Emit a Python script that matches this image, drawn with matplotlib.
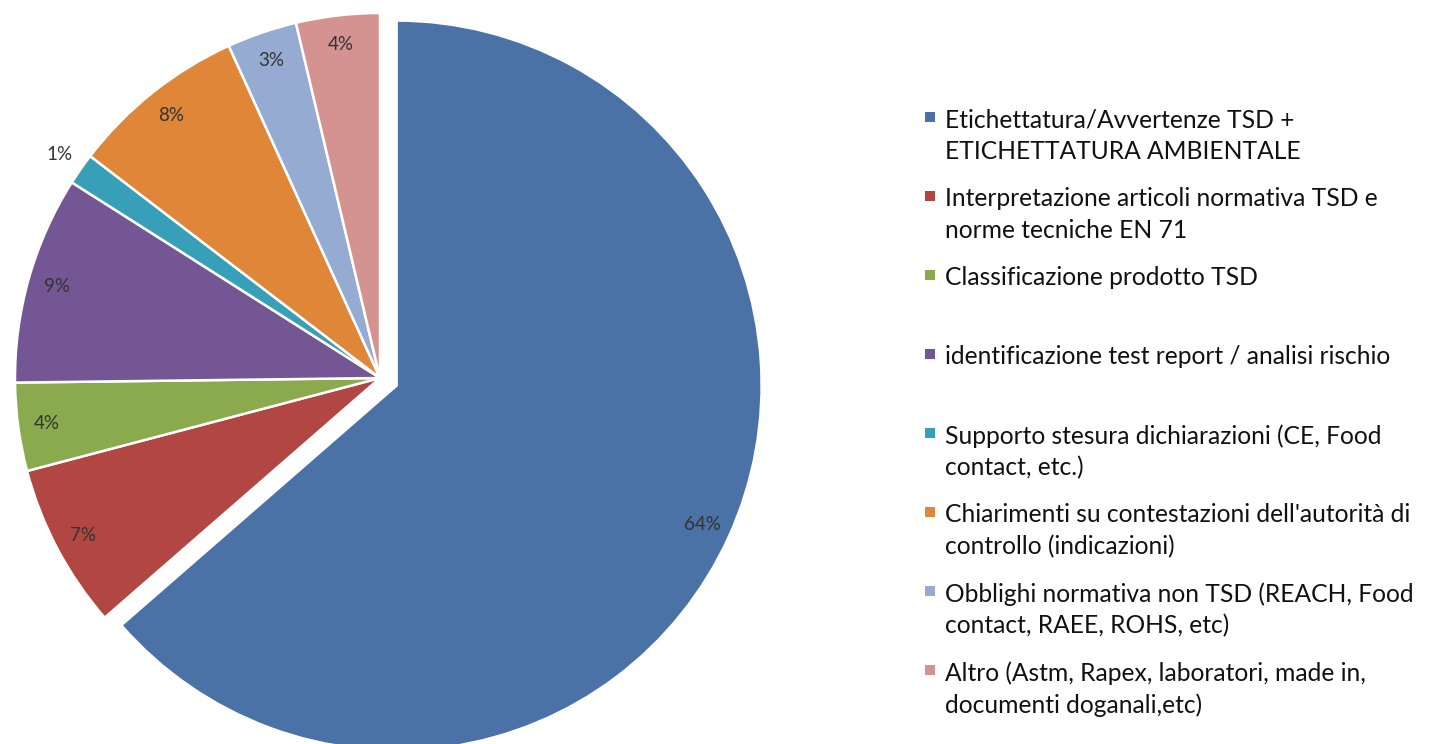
import matplotlib
matplotlib.use("Agg")
import matplotlib.pyplot as plt
import numpy as np

plt.rcParams['font.family'] = ['Lato', 'DejaVu Sans']

# dati
categorie = [
    "Etichettatura/Avvertenze TSD +\nETICHETTATURA AMBIENTALE",
    "Interpretazione articoli normativa TSD e\nnorme tecniche EN 71",
    "Classificazione prodotto TSD",
    "identificazione test report / analisi rischio",
    "Supporto stesura dichiarazioni (CE, Food\ncontact, etc.)",
    "Chiarimenti su contestazioni dell'autorità di\ncontrollo (indicazioni)",
    "Obblighi normativa non TSD (REACH, Food\ncontact, RAEE, ROHS, etc)",
    "Altro (Astm, Rapex, laboratori, made in,\ndocumenti doganali,etc)",
]
valori = [63.6, 7.3, 3.9, 9.2, 1.4, 7.8, 3.1, 3.7]
colori = ["#4A72A6", "#B24642", "#8BAA4E", "#735693",
          "#37A0B8", "#DF8639", "#96ABD2", "#D49391"]
esplodi = [0.05, 0, 0, 0, 0, 0, 0, 0]

W, H = 1432, 744
fig = plt.figure(figsize=(W / 100, H / 100), dpi=100)

# assi della torta: centro (380, 378) px, raggio 365 px
r_px = 365
half = 1.1 * r_px
cx, cy = 380, H - 378
ax = fig.add_axes([(cx - half) / W, (cy - half) / H, 2 * half / W, 2 * half / H])

wedges, texts, autotexts = ax.pie(
    valori, colors=colori, explode=esplodi, startangle=90, counterclock=False,
    autopct='%.0f%%', pctdistance=0.92,
    wedgeprops=dict(edgecolor='white', linewidth=1.8),
    textprops=dict(fontsize=13.5, color='#333333'))
ax.set_xlim(-1.1, 1.1)
ax.set_ylim(-1.1, 1.1)
ax.set_aspect('equal')
ax.axis('off')

# etichetta della fetta piccola fuori dalla torta
w = wedges[4]
ang = np.deg2rad((w.theta1 + w.theta2) / 2)
autotexts[4].set_position((1.07 * np.cos(ang), 1.07 * np.sin(ang)))

# legenda disegnata a mano (spaziatura tipo Excel)
y0 = 117
passo = 79
for i, (lab, col) in enumerate(zip(categorie, colori)):
    y = y0 + i * passo
    fig.add_artist(plt.Rectangle((925 / W, 1 - (y + 5) / H), 10 / W, 10 / H,
                                 transform=fig.transFigure, color=col, lw=0))
    fig.text(945 / W, 1 - (y - 9) / H, lab, fontsize=17.7, color='#111111',
             va='top', ha='left', linespacing=1.45)

fig.savefig("out.png", dpi=100)
